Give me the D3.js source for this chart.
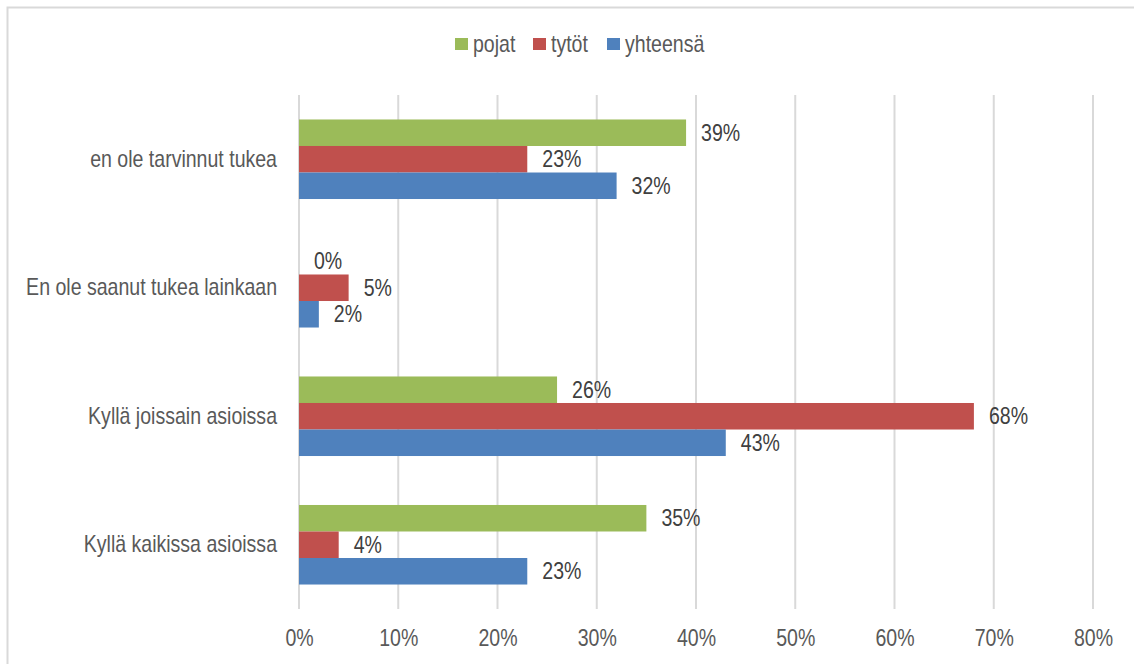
<!DOCTYPE html>
<html>
<head>
<meta charset="utf-8">
<script src="https://cdn.jsdelivr.net/npm/d3@7"></script>
<style>
  html, body { margin: 0; padding: 0; background: #fff; }
  svg { display: block; }
  text { font-family: "Liberation Sans Narrow", "Arial Narrow", "Liberation Sans", Arial, sans-serif; }
</style>
</head>
<body>
<svg id="chart" width="1134" height="664"></svg>
<script>
// Survey answers, per category, for boys / girls / all
const categories = [
  "en ole tarvinnut tukea",
  "En ole saanut tukea lainkaan",
  "Kyllä joissain asioissa",
  "Kyllä kaikissa asioissa"
];
const seriesNames = ["pojat", "tytöt", "yhteensä"];
const pojat    = [39, 0, 26, 35];
const tytot    = [23, 5, 68, 4];
const yhteensa = [32, 2, 43, 23];
const tickValues = [0, 10, 20, 30, 40, 50, 60, 70, 80];
const colors = ["#9BBB59", "#C0504D", "#4F81BD"];

const seriesValues = [pojat, tytot, yhteensa];
const rows = categories.map((c, i) => ({
  category: c,
  values: seriesNames.map((s, k) => ({ series: s, value: seriesValues[k][i], color: colors[k] }))
}));

const FONT_SIZE = 23;
const NARROW = 0.85;   // horizontal squeeze to get a narrow face from the regular one

// squeeze each text horizontally around its own anchor point
function condense(sel) {
  sel.each(function () {
    const t = d3.select(this);
    const x0 = +t.attr("x") || 0;
    const prev = t.attr("transform") || "";
    t.attr("x", 0).attr("transform", `${prev} translate(${x0},0) scale(${NARROW},1)`);
  });
}

const svg = d3.select("#chart");

// outer frame
svg.append("rect")
  .attr("x", 7.5).attr("y", 7.5)
  .attr("width", 1140).attr("height", 670)
  .attr("fill", "none").attr("stroke", "#d9d9d9").attr("stroke-width", 2);

const plot = { left: 299, right: 1093, top: 95, bottom: 609 };

const x = d3.scaleLinear().domain([0, 80]).range([plot.left, plot.right]);
const y = d3.scaleBand().domain(categories)
  .range([plot.top, plot.bottom])
  .paddingInner(0.381).paddingOuter(0.1905);
const ySub = d3.scaleBand().domain(seriesNames).range([0, y.bandwidth()]);

// vertical gridlines
svg.append("g").selectAll("line")
  .data(tickValues)
  .join("line")
  .attr("x1", d => x(d)).attr("x2", d => x(d))
  .attr("y1", plot.top).attr("y2", plot.bottom)
  .attr("stroke", "#d9d9d9").attr("stroke-width", 2);

// x axis labels
const xAxis = d3.axisBottom(x).tickValues(tickValues).tickFormat(d => d + "%").tickSize(0).tickPadding(0);
const gx = svg.append("g").attr("transform", `translate(0, ${plot.bottom + 29})`).call(xAxis);
gx.select(".domain").remove();
gx.selectAll("text")
  .attr("dy", "0.35em").attr("y", 0)
  .attr("font-size", FONT_SIZE).attr("fill", "#595959")
  .style("font-family", null)
  .call(condense);

// category labels
const yAxis = d3.axisLeft(y).tickSize(0).tickPadding(22);
const gy = svg.append("g").attr("transform", `translate(${plot.left}, 0)`).call(yAxis);
gy.select(".domain").remove();
gy.selectAll("text")
  .attr("font-size", FONT_SIZE).attr("fill", "#595959")
  .style("font-family", null)
  .call(condense);

// bars
const groups = svg.append("g").selectAll("g")
  .data(rows)
  .join("g")
  .attr("transform", d => `translate(0, ${y(d.category)})`);

groups.selectAll("rect")
  .data(d => d.values)
  .join("rect")
  .attr("x", x(0))
  .attr("y", d => ySub(d.series))
  .attr("width", d => x(d.value) - x(0))
  .attr("height", ySub.bandwidth())
  .attr("fill", d => d.color);

// value labels
groups.selectAll("text")
  .data(d => d.values)
  .join("text")
  .attr("x", d => x(d.value) + 15)
  .attr("y", d => ySub(d.series) + ySub.bandwidth() / 2)
  .attr("dy", "0.35em")
  .attr("font-size", FONT_SIZE)
  .attr("fill", "#404040")
  .text(d => d.value + "%")
  .call(condense);

// legend
const legendX = [455, 533, 607];
const legend = svg.append("g").selectAll("g")
  .data(seriesNames)
  .join("g")
  .attr("transform", (d, i) => `translate(${legendX[i]}, 38)`);
legend.append("rect")
  .attr("width", 13).attr("height", 12)
  .attr("fill", (d, i) => colors[i]);
legend.append("text")
  .attr("x", 18).attr("y", 6).attr("dy", "0.35em")
  .attr("font-size", FONT_SIZE).attr("fill", "#595959")
  .text(d => d)
  .call(condense);
</script>
</body>
</html>
